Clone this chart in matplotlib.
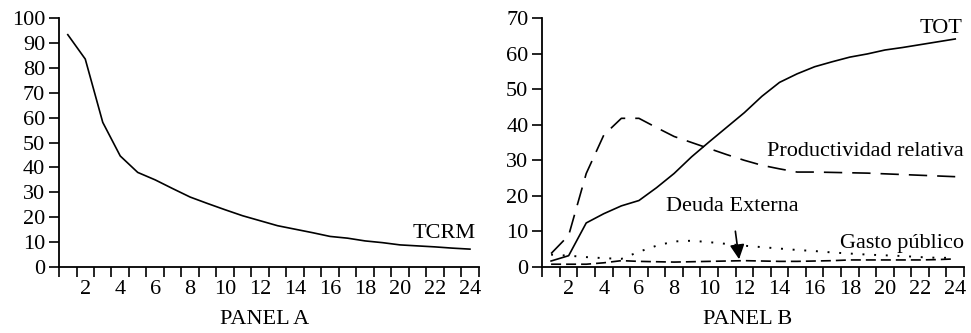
import numpy as np
import matplotlib
matplotlib.use("Agg")
import matplotlib.pyplot as plt

plt.rcParams['font.family'] = ['Liberation Serif', 'DejaVu Serif']
plt.rcParams['font.size'] = 16

meses = list(range(1, 25))

# Panel A
tcrm = [93.3, 83.5, 58.1, 44.6, 38.0, 35.0, 31.5, 28.1, 25.5, 23.0, 20.6, 18.6,
        16.6, 15.2, 13.8, 12.3, 11.6, 10.5, 9.8, 8.9, 8.5, 8.1, 7.6, 7.2]

# Panel B
tot = [1.7, 3.2, 12.4, 15.0, 17.2, 18.7, 22.3, 26.3, 31.0, 35.2, 39.3, 43.4,
       48.0, 51.9, 54.3, 56.3, 57.7, 59.0, 59.9, 61.0, 61.7, 62.5, 63.3, 64.1]
productividad = [3.8, 8.9, 26.3, 37.1, 41.8, 41.8, 39.2, 36.7, 35.0, 33.3, 31.6, 30.0,
                 28.6, 27.6, 26.7, 26.7, 26.6, 26.5, 26.4, 26.2, 26.0, 25.8, 25.6, 25.4]
gasto = [3.5, 3.2, 2.8, 2.5, 2.3, 4.3, 6.0, 7.2, 7.4, 7.0, 6.5, 6.0,
         5.6, 5.2, 4.8, 4.5, 4.1, 3.8, 3.5, 3.3, 3.1, 2.8, 2.6, 2.6]
deuda = [0.8, 0.8, 0.8, 1.2, 1.8, 1.6, 1.5, 1.4, 1.5, 1.6, 1.7, 1.8,
         1.7, 1.6, 1.6, 1.7, 1.8, 2.0, 2.0, 2.0, 2.0, 2.0, 2.1, 2.3]

fig = plt.figure(figsize=(9.71, 3.33), dpi=100)
axA = fig.add_axes([0.0608, 0.198, 0.4322, 0.748])
axB = fig.add_axes([0.5585, 0.198, 0.4343, 0.748])


def formato(ax, ymax):
    ax.set_xlim(0.5, 24.5)
    ax.set_ylim(0, ymax)
    ax.set_yticks(range(0, ymax + 1, 10))
    ax.set_xticks(range(2, 25, 2))
    ax.set_xticks(np.arange(0.5, 25, 1), minor=True)
    ax.tick_params(axis='x', which='major', length=0, pad=9)
    ax.tick_params(axis='x', which='minor', length=7, width=1.2, direction='out')
    ax.tick_params(axis='y', length=7, width=1.2, direction='out', pad=3)
    for s in ['top', 'right']:
        ax.spines[s].set_visible(False)
    for s in ['left', 'bottom']:
        ax.spines[s].set_linewidth(1.3)


axA.plot(meses, tcrm, color='black', lw=1.2)
formato(axA, 100)
axA.text(24.3, 13.5, 'TCRM', ha='right', va='center')

axB.plot(meses, tot, color='black', lw=1.2)
axB.plot(meses, productividad, color='black', lw=1.2, dashes=(11, 6))
axB.plot(meses, gasto, color='black', lw=1.4, dashes=(1, 5))
axB.plot(meses, deuda, color='black', lw=1.2, dashes=(6, 3))
formato(axB, 70)
axB.text(24.4, 67, 'TOT', ha='right', va='center')
axB.text(24.5, 32.4, 'Productividad relativa', ha='right', va='center')
axB.text(24.5, 6.5, 'Gasto público', ha='right', va='center')
axB.annotate('Deuda Externa', xy=(11.7, 2.2), xytext=(11.3, 17.0),
             ha='center', va='center',
             arrowprops=dict(arrowstyle='-|>', color='black', lw=1.2,
                             mutation_scale=22, shrinkA=9, shrinkB=0))

fig.text(0.273, 0.04, 'PANEL A', ha='center', va='center')
fig.text(0.770, 0.04, 'PANEL B', ha='center', va='center')

fig.savefig('out.png', dpi=100)
